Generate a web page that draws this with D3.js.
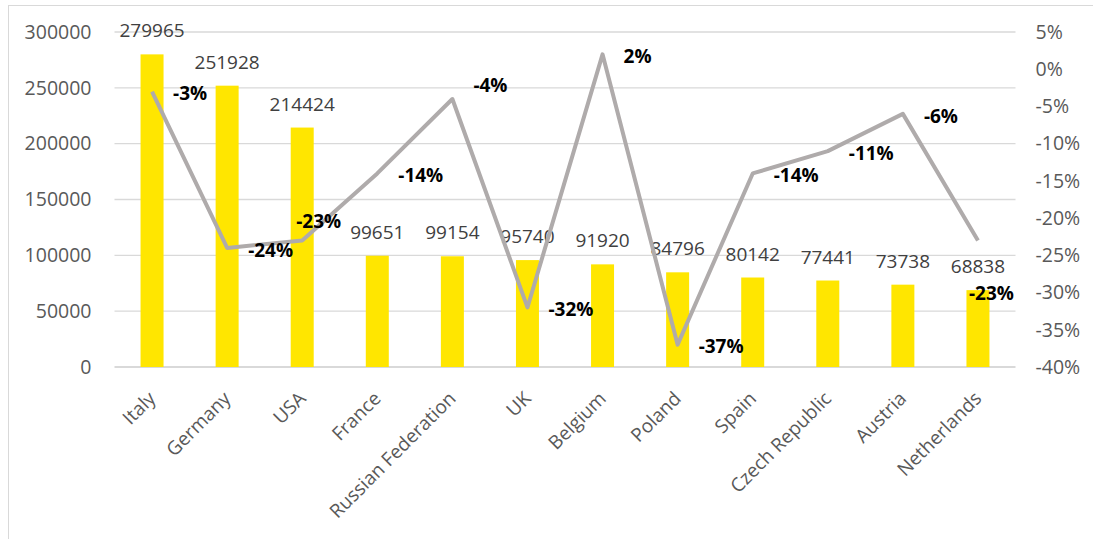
<!DOCTYPE html>
<html>
<head>
<meta charset="utf-8">
<script src="https://cdn.jsdelivr.net/npm/d3@7"></script>
<style>
  body { margin: 0; background: #fff; }
  text { font-family: "Open Sans", sans-serif; }
</style>
</head>
<body>
<script>
var countries = ["Italy", "Germany", "USA", "France", "Russian Federation", "UK",
                 "Belgium", "Poland", "Spain", "Czech Republic", "Austria", "Netherlands"];
var volumes = [279965, 251928, 214424, 99651, 99154, 95740, 91920, 84796, 80142, 77441, 73738, 68838];
var changes = [-3, -24, -23, -14, -4, -32, 2, -37, -14, -11, -6, -23];
var leftTicks = [0, 50000, 100000, 150000, 200000, 250000, 300000];
var rightTicks = [5, 0, -5, -10, -15, -20, -25, -30, -35, -40];

// a few percent labels were moved by hand in the original
var nudge = {
    "USA": [-27, -21],
    "Russian Federation": [0, -16],
    "Netherlands": [-30, 51]
};

var W = 1093, H = 539;
var plotL = 114.5, plotR = 1015.5, plotT = 32, plotB = 367;

var svg = d3.select("body").append("svg")
    .attr("width", W)
    .attr("height", H);

svg.append("rect")
    .attr("x", 8.5).attr("y", 5.5)
    .attr("width", 1200).attr("height", 700)
    .attr("fill", "none")
    .attr("stroke", "#d9d9d9")
    .attr("stroke-width", 1);

var x = d3.scaleBand()
    .domain(countries)
    .range([plotL, plotR]);

var y = d3.scaleLinear()
    .domain([0, 300000])
    .range([plotB, plotT]);

var y2 = d3.scaleLinear()
    .domain([-40, 5])
    .range([plotB, plotT]);

// gridlines
svg.append("g").selectAll("line")
    .data(leftTicks)
    .enter().append("line")
    .attr("x1", plotL).attr("x2", plotR)
    .attr("y1", function(d){ return y(d); })
    .attr("y2", function(d){ return y(d); })
    .attr("stroke", "#d9d9d9")
    .attr("stroke-width", function(d){ return d == 0 ? 2 : 1.3; });

// left axis
var yAxis = svg.append("g")
    .attr("transform", "translate(" + plotL + ",0)")
    .call(d3.axisLeft(y).tickValues(leftTicks).tickSize(0).tickPadding(23).tickFormat(d3.format("d")));
yAxis.select(".domain").remove();
yAxis.selectAll("text")
    .attr("fill", "#595959")
    .style("font-size", "19.5px");

// right axis
var y2Axis = svg.append("g")
    .attr("transform", "translate(" + plotR + ",0)")
    .call(d3.axisRight(y2).tickValues(rightTicks).tickSize(0).tickPadding(20)
        .tickFormat(function(d){ return d + "%"; }));
y2Axis.select(".domain").remove();
y2Axis.selectAll("text")
    .attr("fill", "#595959")
    .style("font-size", "19.5px");

// bars
var bw = 23;
svg.append("g").selectAll("rect")
    .data(countries)
    .enter().append("rect")
    .attr("x", function(d){ return x(d) + x.bandwidth() / 2 - bw / 2; })
    .attr("y", function(d, i){ return y(volumes[i]); })
    .attr("width", bw)
    .attr("height", function(d, i){ return plotB - y(volumes[i]); })
    .attr("fill", "#FFE600");

// value labels
svg.append("g").selectAll("text")
    .data(countries)
    .enter().append("text")
    .attr("x", function(d){ return x(d) + x.bandwidth() / 2; })
    .attr("y", function(d, i){ return y(volumes[i]) - 17; })
    .attr("text-anchor", "middle")
    .attr("fill", "#404040")
    .style("font-size", "19px")
    .text(function(d, i){ return volumes[i]; });

// category labels
svg.append("g").selectAll("text")
    .data(countries)
    .enter().append("text")
    .attr("transform", function(d){
        return "translate(" + (x(d) + x.bandwidth() / 2) + "," + (plotB + 28) + ") rotate(-45)";
    })
    .attr("text-anchor", "end")
    .attr("dy", "0.35em")
    .attr("fill", "#595959")
    .style("font-size", "19px")
    .text(function(d){ return d; });

// change line
var line = d3.line()
    .x(function(d){ return x(d) + x.bandwidth() / 2; })
    .y(function(d, i){ return y2(changes[i]); });

svg.append("path")
    .datum(countries)
    .attr("d", line)
    .attr("fill", "none")
    .attr("stroke", "#AFABAB")
    .attr("stroke-width", 4)
    .attr("stroke-linejoin", "round");

// percent labels
svg.append("g").selectAll("text")
    .data(countries)
    .enter().append("text")
    .attr("x", function(d){
        var n = nudge[d] || [0, 0];
        return x(d) + x.bandwidth() / 2 + 21 + n[0];
    })
    .attr("y", function(d, i){
        var n = nudge[d] || [0, 0];
        return y2(changes[i]) + 2 + n[1];
    })
    .attr("dy", "0.35em")
    .attr("fill", "#000")
    .style("font-size", "19px")
    .style("font-weight", "bold")
    .text(function(d, i){ return changes[i] + "%"; });
</script>
</body>
</html>
